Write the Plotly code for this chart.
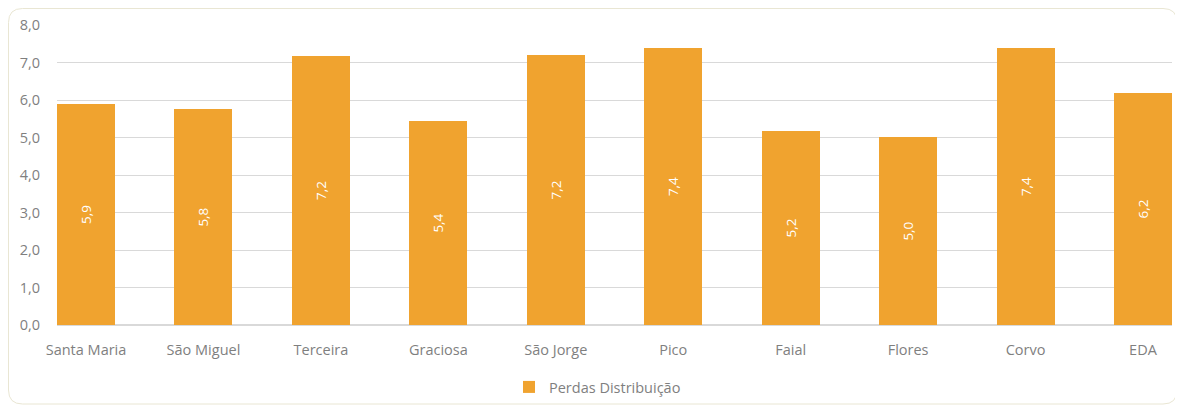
import plotly.graph_objects as go

categories = ["Santa Maria", "São Miguel", "Terceira", "Graciosa", "São Jorge",
              "Pico", "Faial", "Flores", "Corvo", "EDA"]
values = [5.89, 5.76, 7.17, 5.43, 7.21, 7.40, 5.17, 5.02, 7.38, 6.19]
series_name = "Perdas Distribuição"
y_ticks = [0, 1, 2, 3, 4, 5, 6, 7, 8]

OFF = 8  # page body margin
W, H = 1183 - OFF, 409 - OFF
L, R, T, B = 57 - OFF, 11, 25 - OFF, 84
pw, ph = W - L - R, H - T - B

def px(x):  # screen x -> paper
    return (x - OFF - L) / pw

def py(y):  # screen y -> paper
    return (H - B - (y - OFF)) / ph

fig = go.Figure()
fig.add_trace(go.Bar(
    x=list(range(len(categories))), y=values, name=series_name,
    marker=dict(color="#F0A32F", line=dict(width=0)),
    width=0.494,
    texttemplate="%{y:.1f}", textposition="inside", textangle=-90,
    insidetextanchor="middle",
    textfont=dict(color="white", size=13.5, family="Open Sans"),
    showlegend=True,
))

# rounded border
x0, x1, y0, y1, r = 8.5, 1177, 8.5, 404, 14
path = (f"M {px(x0+r)},{py(y0)} L {px(x1-r)},{py(y0)} Q {px(x1)},{py(y0)} {px(x1)},{py(y0+r)} "
        f"L {px(x1)},{py(y1-r)} Q {px(x1)},{py(y1)} {px(x1-r)},{py(y1)} "
        f"L {px(x0+r)},{py(y1)} Q {px(x0)},{py(y1)} {px(x0)},{py(y1-r)} "
        f"L {px(x0)},{py(y0+r)} Q {px(x0)},{py(y0)} {px(x0+r)},{py(y0)} Z")
fig.add_shape(type="path", path=path, xref="paper", yref="paper",
              line=dict(color="#E9E6D3", width=1), layer="below")

fig.update_layout(
    width=W, height=H, autosize=False,
    margin=dict(l=L, r=R, t=T, b=B, pad=0, autoexpand=False),
    paper_bgcolor="white", plot_bgcolor="white",
    separators=",.",
    font=dict(family="Open Sans", color="#7F7F7F", size=14),
    bargap=0,
    xaxis=dict(
        range=[-0.247, len(categories) - 1 + 0.247],
        tickmode="array", tickvals=list(range(len(categories))), ticktext=categories,
        showgrid=False, zeroline=False, showline=False, ticks="",
        tickfont=dict(size=14.5, color="#7F7F7F"), ticklabelstandoff=14,
        automargin=False,
    ),
    yaxis=dict(
        range=[0, 8], tickmode="array", tickvals=y_ticks,
        tickformat=".1f", showgrid=True, gridcolor="#D9D9D9", gridwidth=1,
        zeroline=True, zerolinecolor="#D9D9D9", zerolinewidth=2,
        showline=False, ticks="", ticklabelstandoff=16,
        tickfont=dict(size=14.5, color="#7F7F7F"), automargin=False,
    ),
    legend=dict(orientation="h", x=px(509), xanchor="left", y=py(387), yanchor="middle",
                font=dict(size=14.5, color="#7F7F7F"), itemwidth=30,
                bgcolor="rgba(0,0,0,0)"),
)

fig.write_html("out.html")
